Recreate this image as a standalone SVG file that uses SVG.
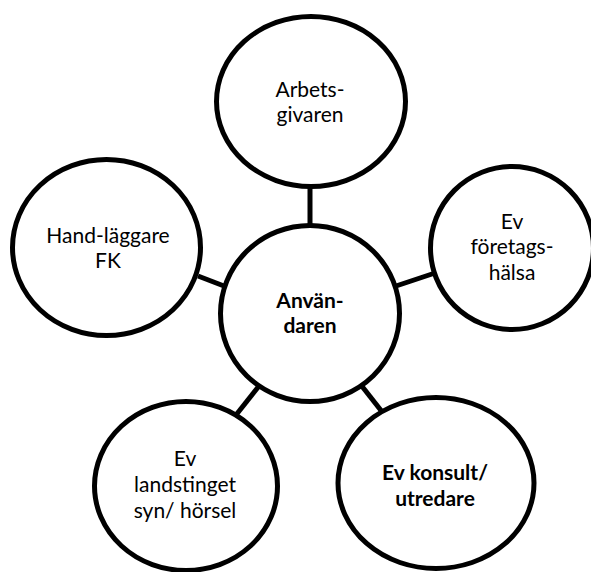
<svg xmlns="http://www.w3.org/2000/svg" width="591" height="572" viewBox="0 0 591 572">
<style>
.n{fill:#fff;stroke:#000;stroke-width:5}
.c line{stroke:#000;stroke-width:5}
text{font-family:Lato,"Open Sans","Liberation Sans",sans-serif;font-size:21px;fill:#000;text-anchor:middle}
.b{font-weight:bold}
</style>
<rect width="591" height="572" fill="#fff"/>
<g id="connectors" class="c">
<line x1="310" y1="185" x2="310" y2="227"/>
<line x1="198" y1="276" x2="224" y2="286"/>
<line x1="396" y1="286" x2="435" y2="273"/>
<line x1="259" y1="386" x2="236" y2="415"/>
<line x1="361" y1="385" x2="383" y2="413"/>
</g>
<g id="arbetsgivaren">
<ellipse class="n" cx="311" cy="101.5" rx="94.5" ry="85"/>
<text x="310" y="97">Arbets-</text>
<text x="310" y="122">givaren</text>
</g>
<g id="handlaggare">
<ellipse class="n" cx="106.5" cy="247.5" rx="94" ry="88"/>
<text x="108" y="243">Hand-läggare</text>
<text x="108" y="268">FK</text>
</g>
<g id="foretagshalsa">
<ellipse class="n" cx="512" cy="248" rx="81.5" ry="81.5"/>
<text x="512" y="229">Ev</text>
<text x="512" y="254">företags-</text>
<text x="512" y="280">hälsa</text>
</g>
<g id="anvandaren">
<ellipse class="n" cx="310" cy="313.5" rx="89.5" ry="88"/>
<text class="b" x="310" y="308">Använ-</text>
<text class="b" x="310" y="333">daren</text>
</g>
<g id="landstinget">
<ellipse class="n" cx="186" cy="486" rx="91.5" ry="84.5"/>
<text x="185" y="466">Ev</text>
<text x="185" y="492">landstinget</text>
<text x="185" y="518">syn/ hörsel</text>
</g>
<g id="konsult">
<ellipse class="n" cx="436" cy="483" rx="98" ry="85.5"/>
<text class="b" x="435" y="480">Ev konsult/</text>
<text class="b" x="435" y="506">utredare</text>
</g>
</svg>
